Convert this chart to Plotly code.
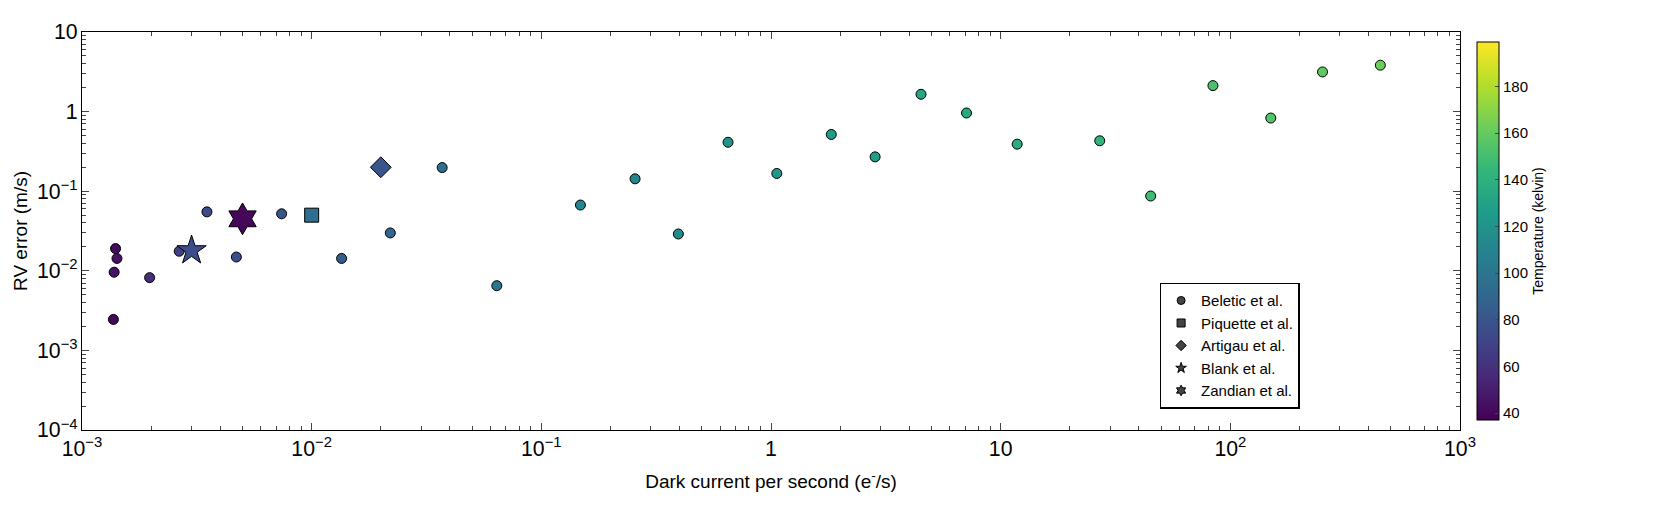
import plotly.graph_objects as go

# Beletic et al. (circles)
bel_dark = [1.4e-3, 1.42e-3, 1.38e-3, 1.37e-3, 1.97e-3, 2.65e-3, 3.5e-3, 4.7e-3, 7.4e-3,
            1.35e-2, 2.2e-2, 3.7e-2, 6.4e-2, 0.148, 0.256, 0.395, 0.65, 1.06, 1.83, 2.84,
            4.5, 7.1, 11.8, 27.0, 45.0, 84.0, 150.0, 252.0, 450.0]
bel_rv = [0.019, 0.0143, 0.0096, 0.00245, 0.0082, 0.0176, 0.055, 0.0149, 0.052,
          0.0143, 0.0299, 0.198, 0.0065, 0.067, 0.143, 0.029, 0.412, 0.167, 0.516, 0.27,
          1.65, 0.96, 0.39, 0.43, 0.087, 2.12, 0.83, 3.15, 3.83]
bel_temp = [42, 44, 45, 40, 58, 68, 74, 76, 80,
            84, 90, 95, 100, 110, 112, 115, 120, 122, 125, 128,
            132, 135, 138, 142, 148, 152, 155, 158, 162]

others = {
    "Piquette et al.": ("square", [0.01], [0.05], [95], 14),
    "Artigau et al.": ("diamond", [0.02], [0.2], [80], 16),
    "Blank et al.": ("star", [0.003], [0.018], [76], 22),
    "Zandian et al.": ("hexagram", [0.005], [0.045], [40], 24),
}

cmin, cmax = 37, 199
fig = go.Figure()
fig.add_trace(go.Scatter(
    x=bel_dark, y=bel_rv, mode="markers", showlegend=False,
    marker=dict(symbol="circle", size=10, color=bel_temp, colorscale="Viridis",
                cmin=cmin, cmax=cmax, line=dict(color="black", width=1),
                colorbar=dict(title=dict(text="Temperature (kelvin)", side="right", font=dict(size=14)),
                              tickvals=[40, 60, 80, 100, 120, 140, 160, 180],
                              ticks="inside", ticklen=4, outlinewidth=1, outlinecolor="black",
                              thickness=22, len=1, y=0.5, x=1.012, xpad=0,
                              tickfont=dict(size=15))),
))
for name, (sym, xs, ys, cs, sz) in others.items():
    fig.add_trace(go.Scatter(
        x=xs, y=ys, mode="markers", showlegend=False,
        marker=dict(symbol=sym, size=sz, color=cs, colorscale="Viridis", cmin=cmin, cmax=cmax,
                    line=dict(color="black", width=1)),
    ))

legend_syms = [("Beletic et al.", "circle")] + [(n, v[0]) for n, v in others.items()]
for name, sym in legend_syms:
    fig.add_trace(go.Scatter(
        x=[None], y=[None], mode="markers", name=name,
        marker=dict(symbol=sym, size=8, color="#444", line=dict(color="black", width=1)),
    ))

axis_common = dict(type="log", showline=True, linecolor="black", linewidth=1, mirror="allticks",
                   ticks="inside", ticklen=7, showgrid=False, zeroline=False, dtick=1,
                   exponentformat="power", tickfont=dict(size=17, color="black"),
                   minor=dict(ticks="inside", ticklen=4, dtick="D1", showgrid=False))
fig.update_xaxes(range=[-3, 3],
                 title=dict(text="Dark current per second (e<sup>-</sup>/s)", font=dict(size=19)),
                 **axis_common)
fig.update_yaxes(range=[-4, 1],
                 title=dict(text="RV error (m/s)", font=dict(size=19), standoff=4),
                 **axis_common)
fig.update_layout(
    width=1658, height=523, plot_bgcolor="white", paper_bgcolor="white",
    font=dict(family="Liberation Sans, Arial", color="black"),
    margin=dict(l=72, r=206, t=14, b=101),
    legend=dict(x=0.782, y=0.37, xanchor="left", yanchor="top", bordercolor="black",
                borderwidth=1.5, bgcolor="white", font=dict(size=15), tracegroupgap=2),
)
fig.write_html("out.html")
